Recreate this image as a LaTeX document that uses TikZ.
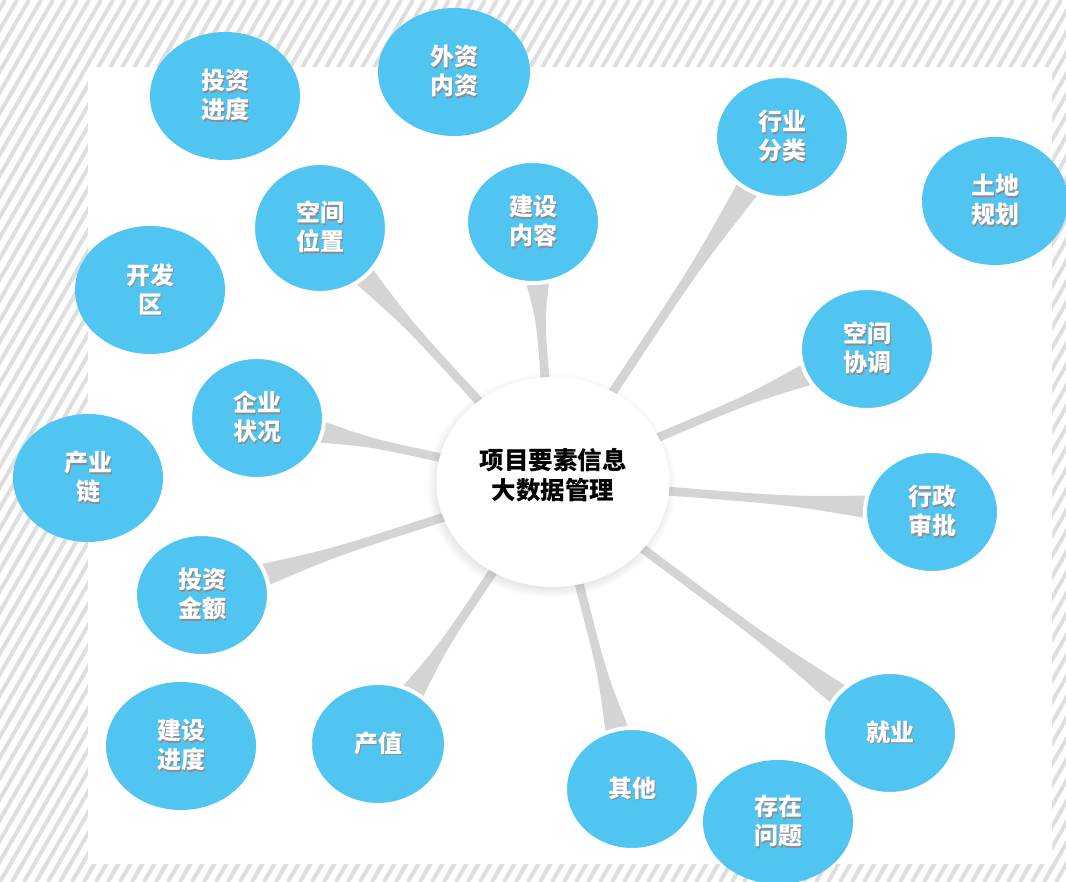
\documentclass[tikz,border=0pt]{standalone}
\usepackage{fontspec}
\setmainfont{Noto Sans CJK SC}
\usetikzlibrary{calc,shapes.geometric,shadows,backgrounds}
\definecolor{bubble}{RGB}{80,197,241}
\definecolor{spokegray}{RGB}{212,212,212}
% white text with a soft dark copy under it
\newcommand\shd[1]{\makebox[0pt][l]{\hspace{1.4pt}\raisebox{-1.6pt}{\color{black!45}#1}}#1}
% tapered grey spoke from the hub to one bubble
\newcommand\spoke[1]{%
  \coordinate (a) at ($(hub)!95pt!(#1)$);
  \coordinate (b) at ($(#1)!58pt!(hub)$);
  \coordinate (m) at ($(a)!0.62!(b)$);
  \fill[spoke] ($(a)!4.5pt!90:(b)$) .. controls ($(m)!4pt!90:(b)$) .. ($(b)!12pt!-90:(a)$)
    -- ($(b)!12pt!90:(a)$) .. controls ($(m)!4pt!-90:(b)$) .. ($(a)!4.5pt!-90:(b)$) -- cycle;}

\begin{document}
\begin{tikzpicture}[x=1pt,y=-1pt,
    bubble/.style={ellipse,fill=bubble,draw=white,line width=4pt,minimum width=134pt,minimum height=122pt,
      inner sep=0pt,text=white,align=center,font=\fontsize{24}{29}\selectfont\bfseries},
    outer/.style={bubble,draw=none,minimum width=150pt,minimum height=128pt},
    hubnode/.style={ellipse,fill=white,minimum width=233pt,minimum height=210pt,inner sep=0pt,align=center,
      font=\fontsize{24.5}{30}\selectfont\bfseries,
      circular drop shadow={shadow xshift=-2pt,shadow yshift=-3pt,shadow scale=1.07,opacity=0.3}},
    spoke/.style={fill=spokegray},
    hatch/.style={black!13,line width=4pt}]
  \useasboundingbox (0,0) rectangle (1066,882);

  \node[hubnode] (hub) at (553,482) {项目要素信息\\大数据管理\\[-14pt]\mbox{}};

  % bubbles joined to the hub
  \node[bubble,minimum height=130pt] (place) at (320,228) {\shd{空间}\\\shd{位置}};
  \node[bubble] (content) at (533,222) {\shd{建设}\\\shd{内容}};
  \node[bubble] (trade) at (782,137) {\shd{行业}\\\shd{分类}};
  \node[bubble] (coord) at (867,349) {\shd{空间}\\\shd{协调}};
  \node[bubble] (approve) at (932,512) {\shd{行政}\\\shd{审批}};
  \node[bubble] (jobs) at (890,733) {\shd{就业}};
  \node[bubble] (other) at (632,789) {\shd{其他}};
  \node[bubble,minimum width=136pt] (value) at (378,744) {\shd{产值}};
  \node[bubble] (amount) at (202,595) {\shd{投资}\\\shd{金额}};
  \node[bubble] (firm) at (257,418) {\shd{企业}\\\shd{状况}};

  % loose bubbles
  \node[outer] (invprog) at (225,96) {\shd{投资}\\\shd{进度}};
  \node[outer,minimum width=152pt] (capital) at (454,72) {\shd{外资}\\\shd{内资}};
  \node[outer,minimum width=146pt] (land) at (995,201) {\shd{土地}\\\shd{规划}};
  \node[outer] (zone) at (150,290) {\shd{开发}\\\shd{区}};
  \node[outer] (chain) at (88,478) {\shd{产业}\\\shd{链}};
  \node[outer] (buildprog) at (181,746) {\shd{建设}\\\shd{进度}};
  \node[outer,minimum height=124pt] (issue) at (778,822) {\shd{存在}\\\shd{问题}};

  \begin{scope}[on background layer]
    \begin{scope}
      \clip (0,0) rectangle (1066,882);
      \foreach \x in {-600,-588,...,1070} \draw[hatch] (\x,882) -- ++(509,-882);
    \end{scope}
    \fill[white] (88,67) rectangle (1052,864);
    \foreach \leaf in {place,content,trade,coord,approve,jobs,other,value,amount,firm} {\spoke{\leaf}}
  \end{scope}
\end{tikzpicture}
\end{document}
